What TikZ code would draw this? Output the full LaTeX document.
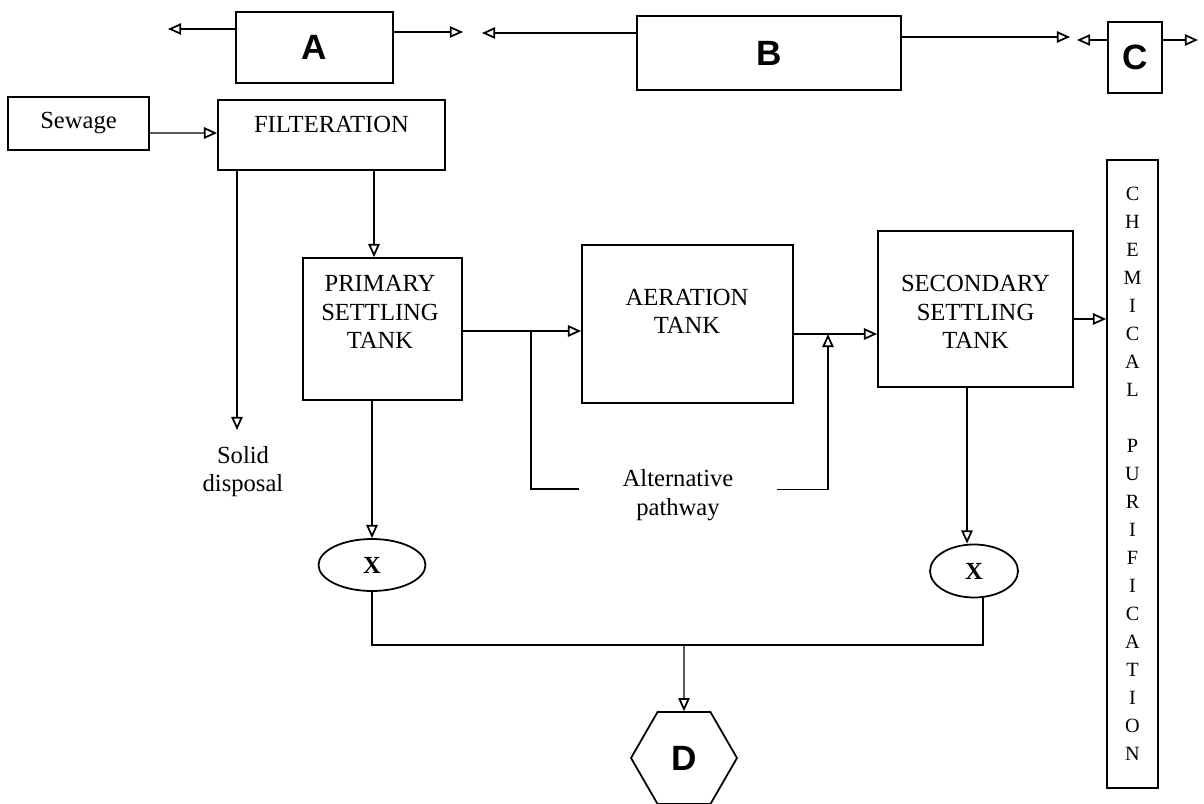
\documentclass[tikz,border=0pt]{standalone}
\usepackage{fontspec}
\setmainfont{Liberation Serif}
\newfontfamily\tagfont{Liberation Sans}
\usepackage{tikz}
\usetikzlibrary{arrows.meta,positioning,calc,shapes.geometric}
\tikzset{
  sewer/.style={
    x=0.02cm, y=-0.02cm,
    >={Triangle[open,length=7.5pt,width=6.5pt,line width=1pt]},
    line width=0.8pt,
    every node/.style={font=\fontsize{14}{16.2}\selectfont}
  },
  stage/.style={                   % plain process box
    draw, line width=1pt,
    inner sep=0pt,
    align=center
  },
  tagbox/.style={                  % lettered box (unknown stage)
    stage,
    font=\tagfont\bfseries\fontsize{20}{23}\selectfont
  },
  stagetext/.style={align=center, inner sep=0pt},
  sludge/.style={                  % oval marked X
    draw, ellipse, line width=1pt,
    inner sep=0pt,
    font=\bfseries\fontsize{14}{16}\selectfont
  },
  endbox/.style={                  % hexagon at the bottom
    draw, regular polygon, regular polygon sides=6,
    line width=1pt, inner sep=0pt,
    minimum size=2.12cm,
    font=\tagfont\bfseries\fontsize{20}{23}\selectfont
  },
  flow/.style={->},
  pipe/.style={-}
}

\begin{document}
\begin{tikzpicture}[sewer]
\useasboundingbox (0,0) rectangle (1204,804);

% Lettered boxes along the top
\node[tagbox, minimum width=3.14cm, minimum height=1.42cm] (A) at (314.5,47.5) {A};
\node[tagbox, minimum width=5.28cm, minimum height=1.48cm] (B) at (769,53) {B};
\node[tagbox, minimum width=1.08cm, minimum height=1.42cm] (C) at (1135,57.5) {C};

\coordinate (aTipL) at (168,29);
\coordinate (aTipR) at (463,32);
\coordinate (bTipL) at (482,33);
\coordinate (bTipR) at (1070,37);
\coordinate (cTipL) at (1077,40);
\coordinate (cTipR) at (1198,40);

\draw[flow] (aTipL -| A.west) -- (aTipL);
\draw[flow] (aTipR -| A.east) -- (aTipR);
\draw[flow] (bTipL -| B.west) -- (bTipL);
\draw[flow] (bTipR -| B.east) -- (bTipR);
\draw[flow] (cTipL -| C.west) -- (cTipL);
\draw[flow] (cTipR -| C.east) -- (cTipR);

% Inlet and filtration
\node[stage, minimum width=2.82cm, minimum height=1.06cm] (sewage) at (78.5,123.5) {Sewage};
\node[stage, minimum width=4.54cm, minimum height=1.40cm] (filt) at (331.5,135) {};
\node[stagetext] (ftxt) at (331.5,124) {FILTERATION};

\draw[flow] ($(sewage.east)+(0,9.5)$) -- ($(filt.west)+(0,-2)$);

% Solid disposal branch
\coordinate (solidTip) at (237,430);
\draw[flow] (solidTip |- filt.south) -- (solidTip);
\node[stagetext] (soltxt) at (243,471.5) {Solid\\disposal};

% Tanks
\node[stage, minimum width=3.18cm, minimum height=2.84cm] (pst) at (382.5,329) {};
\node[stagetext] (ptxt) at (380,312) {PRIMARY\\SETTLING\\TANK};
\node[stage, minimum width=4.22cm, minimum height=3.16cm] (aer) at (687.5,324) {};
\node[stagetext] (atxt) at (687,311.5) {AERATION\\TANK};
\node[stage, minimum width=3.90cm, minimum height=3.12cm] (sst) at (975.5,309) {};
\node[stagetext] (stxt) at (975.5,312) {SECONDARY\\SETTLING\\TANK};

% Chemical purification column
\node[stage, minimum width=1.02cm, minimum height=12.56cm,
  font=\fontsize{11.5}{15.93}\selectfont] (chem) at (1132.5,474)
  {C\\H\\E\\M\\I\\C\\A\\L\\[15.93pt]P\\U\\R\\I\\F\\I\\C\\A\\T\\I\\O\\N};

\draw[flow] ($(filt.south)+(42.5,0)$) -- ($(pst.north)+(-8.5,0)$);

\coordinate (altL) at (531,331);
\coordinate (altR) at (828,334);
\draw[flow] (pst.east |- altL) -- (aer.west |- altL);
\draw[flow] (aer.east |- altR) -- (sst.west |- altR);
\draw[flow] ($(sst.east)+(0,10)$) -- ($(chem.west)+(0,-155)$);

% Alternative pathway round the aeration tank
\node[stagetext, inner xsep=0.86cm] (alttxt) at (678,495) {Alternative\\pathway};
\draw[pipe] (altL) |- ([yshift=3.4pt]alttxt.west);
\draw[flow] ([yshift=3pt]alttxt.east) -| (altR);

% Sludge ovals
\node[sludge, minimum width=2.14cm, minimum height=1.04cm] (xl) at (372,565) {X};
\node[sludge, minimum width=1.76cm, minimum height=1.06cm] (xr) at (974,571) {X};

\draw[flow] (xl.north |- pst.south) -- (xl.north);
\draw[flow] ($(sst.south)+(-8.5,0)$) -- ($(xr.north)+(-7,0)$);

% Collecting line to D
\node[endbox] (D) at (684,758) {D};
\coordinate (join) at (684,645);
\draw[pipe] (xl.south) |- (join) -| ($(xr.south)+(9,0)$);
\draw[flow] (join) -- (D.north);

\end{tikzpicture}
\end{document}
